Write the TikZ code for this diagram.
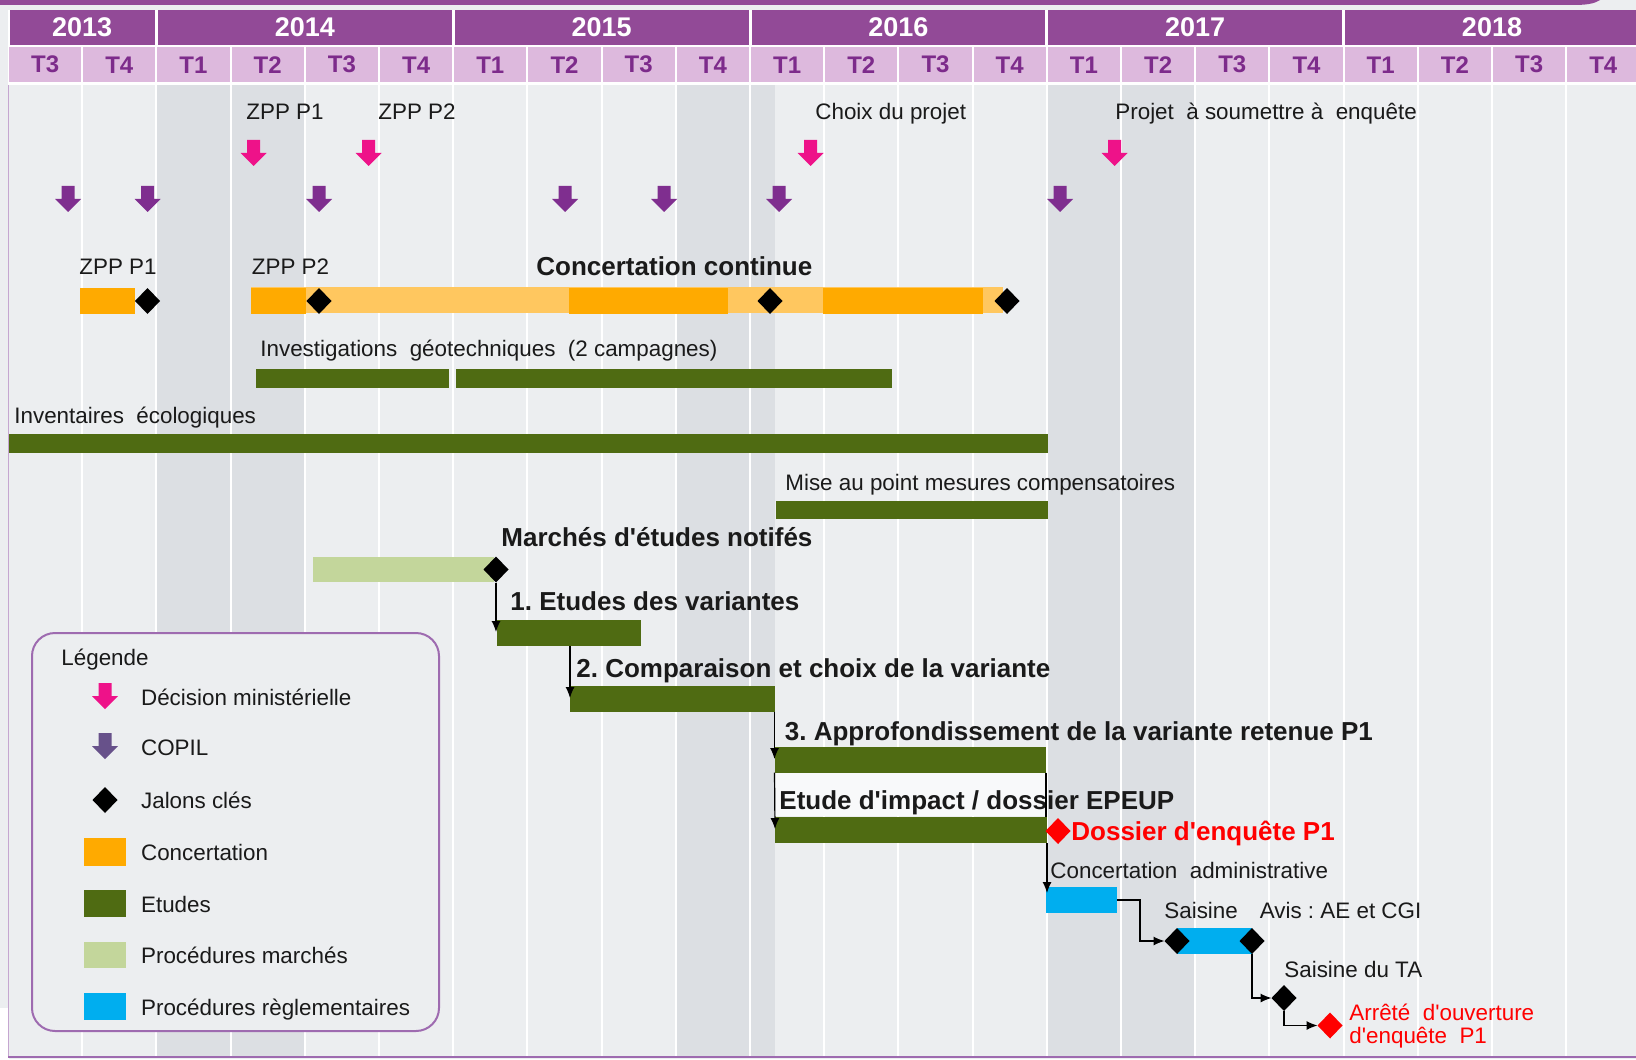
\documentclass[tikz,border=0pt]{standalone}
\usepackage{fontspec}
\setmainfont{Liberation Sans}[Ligatures=TeXOff]
\usetikzlibrary{shapes.geometric,fit,arrows.meta}

\definecolor{violetfonce}{HTML}{924A97}
\definecolor{roseclair}{HTML}{DDB9DD}
\definecolor{violettexte}{HTML}{7D2B8B}
\definecolor{fond}{HTML}{ECEEF0}
\definecolor{fondsombre}{HTML}{DCDFE3}
\definecolor{orangefonce}{HTML}{FFAA00}
\definecolor{orangeclair}{HTML}{FFC75F}
\definecolor{vert}{HTML}{4F6B12}
\definecolor{vertclair}{HTML}{C3D69B}
\definecolor{bleu}{HTML}{00AEEF}
\definecolor{rosedecision}{HTML}{EE1289}
\definecolor{violetcopil}{HTML}{7F2E8F}
\definecolor{violetlegende}{HTML}{67518A}
\definecolor{rouge}{HTML}{FF0000}
\definecolor{cadre}{HTML}{9E6BB0}
\definecolor{noir}{HTML}{1A1A1A}

\tikzset{
  barre/.style={inner sep=0pt, outer sep=0pt},
  jalon/.style={diamond, fill=black, inner sep=0pt, outer sep=0pt, minimum width=12.5pt, minimum height=13pt},
  etiq/.style={anchor=base west, inner sep=0pt, text=noir, font=\fontsize{11.2}{13.4}\selectfont},
  titre/.style={etiq, font=\fontsize{13}{15}\selectfont\bfseries},
  annee/.style={fill=violetfonce, text=white, inner sep=0pt, minimum height=17.5pt, font=\fontsize{13.5}{15}\selectfont\bfseries},
  trim/.style={fill=roseclair, text=violettexte, inner sep=0pt, minimum width=36.1pt, minimum height=17.25pt, font=\fontsize{12}{14}\selectfont\bfseries},
  lien/.style={-{Latex[length=5.5pt,width=4.5pt]}, line width=0.6pt},
  trait/.style={line width=0.6pt},
  pics/fleche/.style={code={\fill[#1] (-6.5,0) -- (6.5,0) -- (6.5,13) -- (13,13) -- (0,26) -- (-13,13) -- (-6.5,13) -- cycle;}},
}

\begin{document}
\frenchspacing
\begin{tikzpicture}[x=0.5pt, y=-0.5pt]
\useasboundingbox (0,0) rectangle (1636,1059);
\clip (0,0) rectangle (1636,1059);

% fond et cadre
\fill[fond] (0,0) rectangle (1636,1059);
\fill[white] (0,1008) rectangle (9,1059);
\fill[violetfonce] (0,0) -- (1600,0) .. controls (1594,4) and (1586,5) .. (1572,5) -- (0,5) -- cycle;

% grille des trimestres
\fill[white] (8,10) rectangle (1636,85);
\fill[fondsombre] (156.4,85) rectangle (304.8,1057);
\fill[fondsombre] (675.8,85) rectangle (775,1057);
\fill[fondsombre] (1046.8,85) rectangle (1195.2,1057);
\foreach \q in {1,...,21}
  \draw[white, line width=1pt] ({8+\q*74.2},85) -- ({8+\q*74.2},1057);
\draw[cadre!60, line width=0.6pt] (8.5,85) -- (8.5,1057);
\draw[cadre, line width=1.2pt] (8,1057) -- (1636,1057);

% annees et trimestres
\foreach \an/\deb/\fin in {2013/0/2,2014/2/6,2015/6/10,2016/10/14,2017/14/18,2018/18/22}{
  \pgfmathsetmacro{\larg}{((\fin-\deb)*74.2-3)/2}
  \node[annee, minimum width=\larg pt] (a\an) at ({8+(\deb+\fin)*37.1},27.5) {\an};
}
\foreach \q in {0,...,21}{
  \pgfmathtruncatemacro{\t}{mod(\q+2,4)+1}
  \node[trim] (t\q) at ({8+(\q+0.5)*74.2},64.75) {T\t};
}

% decisions ministerielles et COPIL
\node[etiq] (lzpp1) at (246,120) {ZPP P1};
\node[etiq] (lzpp2) at (378,120) {ZPP P2};
\node[etiq] (lchoix) at (815,120) {Choix du projet};
\node[etiq] (lprojet) at (1115,120) {Projet~ à soumettre à~ enquête};
\foreach \x in {253.7,368.7,810.7,1114.6}
  \pic at (\x,140) {fleche=rosedecision};
\foreach \x in {68,147.5,319,565,664,779,1060}
  \pic at (\x,186) {fleche=violetcopil};

% concertation
\node[etiq] (lcz1) at (79,274) {ZPP P1};
\node[etiq] (lcz2) at (251.5,274) {ZPP P2};
\node[titre] (lcc) at (536,275) {Concertation continue};
\node[barre, fill=orangeclair, fit={(251,287) (1003,313)}] (cc) {};
\node[barre, fill=orangefonce, fit={(79.5,288) (135,314)}] (cz1) {};
\node[barre, fill=orangefonce, fit={(251,288) (306,314)}] (cz2) {};
\node[barre, fill=orangefonce, fit={(569,288) (728,314)}] (cd1) {};
\node[barre, fill=orangefonce, fit={(823,288) (983,314)}] (cd2) {};
\node[jalon] (jp1) at (147.5,301) {};
\node[jalon] (jp2) at (319,301) {};
\node[jalon] (jc1) at (770,301) {};
\node[jalon] (jc2) at (1007,301) {};

% etudes
\node[etiq] (lgeo) at (260,356) {Investigations~ géotechniques~ (2 campagnes)};
\node[barre, fill=vert, fit={(256,369) (449,388)}] (geo1) {};
\node[barre, fill=vert, fit={(456,369) (892,388)}] (geo2) {};
\node[etiq] (leco) at (14,423) {Inventaires~ écologiques};
\node[barre, fill=vert, fit={(9,434) (1048,453)}] (eco) {};
\node[etiq] (lmise) at (785,490) {Mise au point mesures compensatoires};
\node[barre, fill=vert, fit={(776,501) (1048,519)}] (mise) {};
\node[titre] (lmar) at (501,546) {Marchés d'études notifés};
\node[barre, fill=vertclair, fit={(313,557) (494,582)}] (marche) {};
\node[jalon] (jm) at (496,569.5) {};
\node[titre] (let1) at (510,610.5) {1. Etudes des variantes};
\node[barre, fill=vert, fit={(497,620) (641,646)}] (et1) {};
\node[titre] (let2) at (576,677) {2. Comparaison et choix de la variante};
\node[barre, fill=vert, fit={(570,686) (774.5,711.5)}] (et2) {};
\node[titre] (let3) at (784.5,740) {3. Approfondissement de la variante retenue P1};
\node[barre, fill=vert, fit={(774.5,747) (1046,772.5)}] (et3) {};
\fill[white!65!fond] (776,773) rectangle (1046,816);
\node[titre] (let4) at (779,809) {Etude d'impact / dossier EPEUP};
\node[barre, fill=vert, fit={(775,817) (1047,843)}] (et4) {};
\node[jalon, fill=rouge] (jdos) at (1058,831) {};
\node[titre, text=rouge] (ldos) at (1071,840) {Dossier d'enquête P1};

% procedures reglementaires
\node[etiq] (lcad) at (1050,878) {Concertation~ administrative};
\node[barre, fill=bleu, fit={(1046,887) (1117,913)}] (pr1) {};
\node[etiq] (lsai) at (1164,918) {Saisine\hspace{11pt}Avis : AE et CGI};
\node[barre, fill=bleu, fit={(1177,928) (1252,954)}] (pr2) {};
\node[jalon] (js1) at (1177,941) {};
\node[jalon] (js2) at (1252,941) {};
\node[etiq] (lta) at (1284,977) {Saisine du TA};
\node[jalon] (jta) at (1284,998) {};
\node[jalon, fill=rouge] (jarr) at (1330,1025.5) {};
\node[etiq, text=rouge, align=left, anchor=north west, font=\fontsize{11.2}{11.5}\selectfont] (larr) at (1349,1004) {Arrêté~ d'ouverture\\d'enquête~ P1};

% enchainements
\draw[lien] (jm.south) -- ([yshift=-6pt]jm.south |- et1.north);
\draw[lien] (et1.south -| et2.west) -- ([yshift=-6pt]et2.north west);
\draw[lien] (et2.south east) -- ([yshift=-6pt]et2.south east |- et3.north);
\draw[lien] (et3.south west) -- ([yshift=-6pt]et4.north west);
\draw[trait] (et3.south east) -- (et3.south east |- et4.north);
\draw[lien] (et4.south east) -- ([yshift=-3pt]et4.south east |- pr1.north);
\draw[lien] (pr1.east) -- ++(23,0) |- (js1.west);
\draw[lien] (js2.south) |- (jta.west);
\draw[lien] (jta.south) |- (jarr.west);

% legende
\draw[cadre, line width=1pt, fill=fond, rounded corners=11.5pt] (32,633) rectangle (439,1031);
\node[etiq] (lleg) at (61,665) {Légende};
\pic at (105,683) {fleche=rosedecision};
\pic at (105,733) {fleche=violetlegende};
\node[jalon] (ljal) at (105,800) {};
\node[barre, fill=orangefonce, fit={(84.3,838) (125.7,866)}] (lconc) {};
\node[barre, fill=vert, fit={(84.3,890) (125.7,917)}] (letu) {};
\node[barre, fill=vertclair, fit={(84.3,942) (125.7,968)}] (lpm) {};
\node[barre, fill=bleu, fit={(84.3,993) (125.7,1020)}] (lpr) {};
\foreach \y/\txt in {705/Décision ministérielle,755/COPIL,808/Jalons clés,860/Concertation,912/Etudes,963/Procédures marchés,1015/Procédures règlementaires}
  \node[etiq] (l\y) at (140.7,\y) {\txt};

\end{tikzpicture}
\end{document}
